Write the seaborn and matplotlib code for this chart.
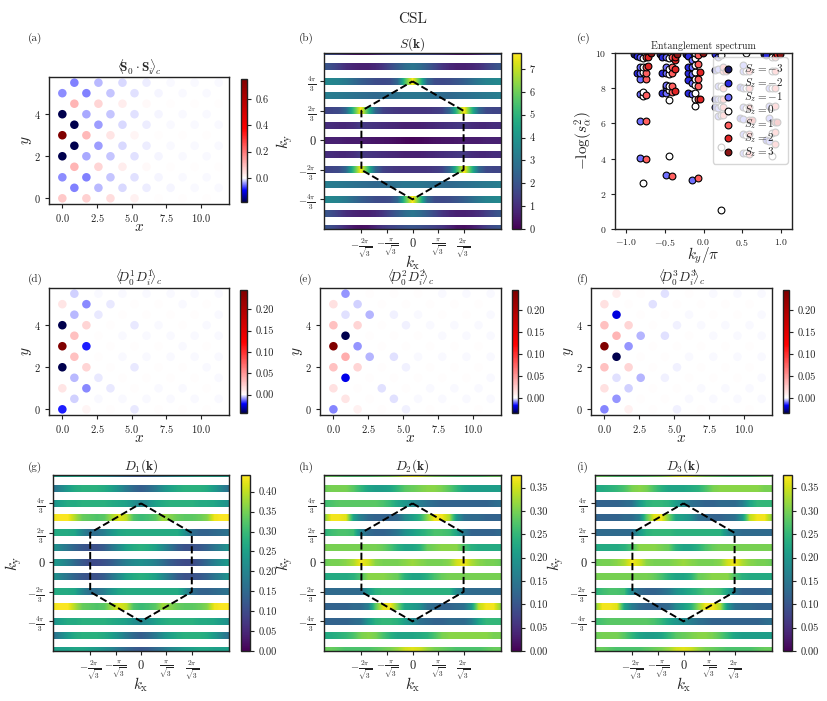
# -*- coding: utf-8 -*-
# CSL correlations, structure factors and entanglement spectrum

import numpy as np
import pandas as pd
import matplotlib
matplotlib.use('Agg')
import matplotlib.pyplot as plt
import seaborn as sns
from matplotlib.cm import ScalarMappable
from matplotlib.colors import TwoSlopeNorm, Normalize

# real-space correlations: one list per lattice column, 6 sites each
corr_a = [
    [0.08, -0.04, -0.18, 0.75, -0.18, -0.04],
    [-0.045, 0.11, -0.18, -0.18, 0.11, -0.045],
    [0.07, -0.045, -0.03, 0.10, -0.03, -0.045],
    [-0.025, 0.06, -0.035, -0.035, 0.06, -0.025],
    [0.05, -0.02, -0.02, 0.04, -0.02, -0.02],
    [-0.014, 0.025, -0.014, -0.014, 0.025, -0.014],
    [0.02, -0.01, -0.01, 0.016, -0.01, -0.01],
    [-0.006, 0.006, -0.006, -0.006, 0.006, -0.006],
    [0.005, -0.004, -0.004, 0.005, -0.004, -0.004],
    [-0.003, 0.004, -0.002, -0.002, 0.004, -0.002],
    [0.004, -0.002, -0.002, 0.005, -0.002, -0.002],
    [-0.002, 0.003, -0.002, -0.002, 0.003, -0.002],
    [0.003, -0.002, -0.002, 0.005, -0.002, -0.002],
    [-0.002, 0.003, -0.002, -0.002, 0.003, -0.002],
]
corr_d = [
    [-0.019, 0.012, -0.043, 0.245, -0.043, 0.012],
    [-0.004, -0.006, 0.03, 0.03, -0.006, -0.004],
    [0.005, -0.010, 0.02, -0.019, 0.02, -0.010],
    [-0.0005, -0.002, 0.001, 0.001, -0.002, -0.0005],
    [0.001, -0.002, 0.001, 0.001, 0.001, -0.002],
    [-0.0005, 0.001, -0.0005, -0.0005, 0.001, -0.0005],
    [-0.002, 0.001, -0.002, 0.001, -0.002, 0.001],
    [-0.0005, 0.001, -0.0005, -0.0005, 0.001, -0.0005],
    [0.001, -0.0005, 0.001, 0.001, -0.0005, 0.001],
    [-0.0005, 0.001, -0.0005, -0.0005, 0.001, -0.0005],
    [0.001, -0.0005, 0.001, -0.0005, 0.001, -0.0005],
    [-0.0005, 0.001, -0.0005, -0.0005, 0.001, -0.0005],
    [0.001, 0.001, -0.0005, 0.001, -0.0005, 0.001],
    [-0.0005, -0.0005, -0.0005, -0.0005, -0.0005, -0.0005],
]
corr_e = [
    [-0.008, 0.015, 0.03, 0.245, 0.03, 0.015],
    [0.012, -0.019, 0.04, -0.034, -0.002, -0.007],
    [0.006, 0.001, 0.02, -0.007, 0.02, -0.003],
    [0.001, 0.001, -0.005, 0.001, -0.005, 0.001],
    [0.001, -0.002, 0.001, 0.001, 0.001, 0.001],
    [-0.002, 0.001, -0.002, 0.001, -0.001, 0.001],
    [-0.001, 0.001, -0.001, 0.001, -0.001, 0.001],
    [-0.0005, 0.001, -0.0005, 0.001, -0.0005, 0.001],
    [0.001, -0.0005, 0.001, 0.001, -0.0005, 0.001],
    [-0.0005, 0.001, -0.0005, -0.0005, 0.001, -0.0005],
    [0.001, -0.0005, 0.001, 0.001, -0.0005, 0.001],
    [-0.0005, 0.001, -0.0005, -0.0005, 0.001, -0.0005],
    [0.001, -0.0005, 0.001, 0.001, -0.0005, 0.001],
    [-0.0005, -0.0005, -0.0005, -0.0005, -0.0005, -0.0005],
]
corr_f = [
    [-0.008, 0.015, 0.03, 0.245, 0.03, 0.015],
    [-0.007, -0.002, -0.034, 0.035, -0.02, 0.008],
    [0.006, -0.003, 0.02, -0.007, 0.02, 0.001],
    [0.001, -0.005, 0.001, -0.005, 0.001, 0.001],
    [0.001, 0.001, 0.001, 0.001, 0.001, -0.002],
    [0.001, -0.001, 0.001, -0.002, 0.001, -0.002],
    [-0.001, 0.001, -0.001, 0.001, -0.001, 0.001],
    [-0.0005, 0.001, -0.0005, 0.001, -0.0005, 0.001],
    [0.001, -0.0005, 0.001, 0.001, -0.0005, 0.001],
    [-0.0005, 0.001, -0.0005, -0.0005, 0.001, -0.0005],
    [0.001, -0.0005, 0.001, 0.001, -0.0005, 0.001],
    [-0.0005, 0.001, -0.0005, -0.0005, 0.001, -0.0005],
    [0.001, -0.0005, 0.001, 0.001, -0.0005, 0.001],
    [-0.0005, -0.0005, -0.0005, -0.0005, -0.0005, -0.0005],
]

# structure factors: rows for ky = 2pi, 5pi/3 ... 0, each read at 25 kx values
sk_rows = [
    [2.0, 1.8, 1.4, 0.9, 0.5, 0.3, 0.4, 0.8, 1.2, 1.5, 1.7, 1.9, 2.0, 1.9, 1.7, 1.5, 1.2, 0.8, 0.4, 0.3, 0.5, 0.9, 1.4, 1.8, 2.0],
    [2.1, 1.8, 1.4, 1.0, 0.8, 0.7, 0.7, 0.9, 1.2, 1.7, 2.2, 2.7, 3.0, 2.7, 2.2, 1.7, 1.2, 0.9, 0.7, 0.7, 0.8, 1.0, 1.4, 1.8, 2.1],
    [3.6, 3.5, 3.4, 3.1, 2.7, 2.3, 2.0, 1.8, 1.7, 1.8, 2.6, 5.5, 7.7, 5.5, 2.6, 1.8, 1.7, 1.8, 2.0, 2.3, 2.7, 3.1, 3.4, 3.5, 3.6],
    [3.3, 3.2, 3.1, 3.0, 2.9, 2.8, 2.7, 2.6, 2.7, 2.8, 2.9, 3.0, 3.0, 3.0, 2.9, 2.8, 2.7, 2.6, 2.7, 2.8, 2.9, 3.0, 3.1, 3.2, 3.3],
    [1.6, 1.6, 1.7, 2.6, 5.2, 7.7, 5.2, 2.5, 1.5, 1.3, 1.2, 1.2, 1.2, 1.2, 1.2, 1.3, 1.5, 2.5, 5.2, 7.7, 5.2, 2.6, 1.7, 1.6, 1.6],
    [1.0, 1.0, 0.9, 0.9, 1.0, 1.3, 1.2, 1.1, 1.0, 0.9, 0.8, 0.7, 0.7, 0.7, 0.8, 0.9, 1.0, 1.1, 1.2, 1.3, 1.0, 0.9, 0.9, 1.0, 1.0],
    [0.7, 0.7, 0.7, 0.6, 0.6, 0.6, 0.5, 0.45, 0.4, 0.35, 0.25, 0.15, 0.1, 0.15, 0.25, 0.35, 0.4, 0.45, 0.5, 0.6, 0.6, 0.6, 0.7, 0.7, 0.7],
]
d1_rows = [
    [0.25, 0.25, 0.25, 0.26, 0.26, 0.25, 0.24, 0.22, 0.20, 0.17, 0.15, 0.13, 0.12, 0.13, 0.15, 0.17, 0.20, 0.22, 0.24, 0.25, 0.26, 0.26, 0.25, 0.25, 0.25],
    [0.16, 0.20, 0.24, 0.27, 0.28, 0.28, 0.28, 0.27, 0.25, 0.22, 0.18, 0.15, 0.13, 0.15, 0.18, 0.22, 0.25, 0.27, 0.28, 0.28, 0.28, 0.27, 0.24, 0.20, 0.16],
    [0.22, 0.25, 0.27, 0.27, 0.28, 0.28, 0.28, 0.28, 0.27, 0.26, 0.25, 0.22, 0.20, 0.22, 0.25, 0.27, 0.28, 0.28, 0.28, 0.28, 0.27, 0.27, 0.26, 0.24, 0.22],
    [0.43, 0.44, 0.44, 0.39, 0.34, 0.33, 0.32, 0.33, 0.38, 0.42, 0.40, 0.32, 0.30, 0.31, 0.33, 0.38, 0.36, 0.34, 0.33, 0.33, 0.34, 0.36, 0.43, 0.44, 0.44],
    [0.27, 0.27, 0.27, 0.26, 0.20, 0.16, 0.16, 0.19, 0.23, 0.26, 0.27, 0.27, 0.27, 0.27, 0.27, 0.27, 0.27, 0.27, 0.22, 0.16, 0.14, 0.14, 0.15, 0.16, 0.17],
    [0.23, 0.20, 0.17, 0.14, 0.12, 0.11, 0.11, 0.13, 0.17, 0.21, 0.25, 0.27, 0.28, 0.27, 0.25, 0.21, 0.17, 0.13, 0.11, 0.11, 0.12, 0.14, 0.17, 0.20, 0.23],
    [0.24, 0.22, 0.19, 0.15, 0.12, 0.10, 0.10, 0.11, 0.13, 0.16, 0.19, 0.21, 0.22, 0.21, 0.19, 0.16, 0.13, 0.11, 0.10, 0.10, 0.12, 0.15, 0.19, 0.22, 0.24],
]
d2_rows = [
    [0.29, 0.29, 0.28, 0.27, 0.27, 0.27, 0.27, 0.28, 0.29, 0.30, 0.32, 0.35, 0.36, 0.35, 0.32, 0.30, 0.29, 0.28, 0.27, 0.27, 0.27, 0.27, 0.28, 0.29, 0.29],
    [0.29, 0.30, 0.30, 0.30, 0.28, 0.25, 0.22, 0.21, 0.21, 0.22, 0.25, 0.28, 0.29, 0.30, 0.31, 0.31, 0.30, 0.28, 0.25, 0.22, 0.21, 0.21, 0.21, 0.21, 0.21],
    [0.26, 0.27, 0.28, 0.28, 0.28, 0.28, 0.28, 0.28, 0.27, 0.25, 0.22, 0.20, 0.18, 0.16, 0.14, 0.13, 0.12, 0.12, 0.12, 0.12, 0.12, 0.12, 0.12, 0.13, 0.14],
    [0.30, 0.37, 0.37, 0.36, 0.22, 0.16, 0.13, 0.12, 0.12, 0.12, 0.13, 0.18, 0.21, 0.24, 0.31, 0.37, 0.37, 0.33, 0.20, 0.14, 0.13, 0.13, 0.12, 0.12, 0.12],
    [0.24, 0.26, 0.27, 0.27, 0.26, 0.17, 0.13, 0.12, 0.12, 0.13, 0.15, 0.19, 0.21, 0.23, 0.25, 0.27, 0.27, 0.26, 0.22, 0.15, 0.12, 0.12, 0.12, 0.12, 0.13],
    [0.30, 0.30, 0.30, 0.30, 0.30, 0.30, 0.30, 0.30, 0.29, 0.27, 0.24, 0.22, 0.22, 0.24, 0.29, 0.30, 0.31, 0.31, 0.31, 0.27, 0.24, 0.23, 0.23, 0.23, 0.23],
    [0.29, 0.30, 0.30, 0.31, 0.33, 0.37, 0.35, 0.31, 0.30, 0.30, 0.30, 0.31, 0.32, 0.31, 0.30, 0.30, 0.30, 0.31, 0.35, 0.37, 0.33, 0.31, 0.30, 0.30, 0.29],
    [0.23, 0.23, 0.23, 0.23, 0.24, 0.27, 0.31, 0.31, 0.31, 0.30, 0.29, 0.24, 0.22, 0.22, 0.24, 0.27, 0.29, 0.30, 0.30, 0.30, 0.30, 0.30, 0.30, 0.30, 0.30],
    [0.13, 0.13, 0.13, 0.13, 0.13, 0.13, 0.20, 0.24, 0.25, 0.25, 0.25, 0.24, 0.24, 0.24, 0.24, 0.24, 0.24, 0.24, 0.18, 0.14, 0.13, 0.13, 0.13, 0.13, 0.13],
    [0.12, 0.12, 0.12, 0.12, 0.13, 0.13, 0.16, 0.28, 0.36, 0.37, 0.30, 0.22, 0.21, 0.19, 0.14, 0.13, 0.12, 0.12, 0.13, 0.14, 0.20, 0.34, 0.37, 0.37, 0.31],
    [0.12, 0.12, 0.12, 0.12, 0.13, 0.14, 0.20, 0.24, 0.25, 0.25, 0.24, 0.21, 0.18, 0.14, 0.13, 0.12, 0.12, 0.13, 0.13, 0.13, 0.16, 0.22, 0.25, 0.25, 0.25],
    [0.23, 0.23, 0.24, 0.25, 0.27, 0.30, 0.31, 0.30, 0.27, 0.24, 0.22, 0.22, 0.22, 0.23, 0.24, 0.27, 0.30, 0.31, 0.31, 0.31, 0.31, 0.31, 0.31, 0.30, 0.30],
    [0.29, 0.29, 0.28, 0.27, 0.27, 0.27, 0.27, 0.28, 0.29, 0.30, 0.32, 0.35, 0.36, 0.35, 0.32, 0.30, 0.29, 0.28, 0.27, 0.27, 0.27, 0.27, 0.28, 0.29, 0.29],
]

# entanglement spectrum, one pair of lists per Sz sector
kpi_m3 = [-0.89, -0.56, -0.22, 0.78]
lev_m3 = [9.95, 9.95, 9.95, 9.95]
kpi_m2 = [-0.855, -0.855, -0.53, -0.53, -0.53, -0.2, -0.2, -0.2, -0.2, -0.2, 0.145, 0.145, 0.145, 0.145, 0.475, 0.475, 0.81, 0.81]
lev_m2 = [8.85, 9.85, 7.7, 8.85, 9.8, 7.75, 8.45, 8.85, 9.2, 9.85, 6.95, 7.4, 9.05, 9.95, 6.3, 8.05, 9.9, 5.05]
kpi_m1 = [-0.82, -0.82, -0.82, -0.82, -0.82, -0.82, -0.82,
          -0.485, -0.485, -0.485, -0.485, -0.485, -0.485, -0.485,
          -0.146, -0.146, -0.146, -0.146, -0.146, -0.146,
          0.185, 0.185, 0.185, 0.185, 0.185, 0.185,
          0.515, 0.515, 0.515, 0.515, 0.515, 0.515, 0.515,
          0.845, 0.845, 0.845, 0.845]
lev_m1 = [4.02, 6.12, 7.65, 8.5, 8.85, 9.2, 9.8,
          3.08, 7.75, 8.05, 8.2, 8.85, 9.2, 9.75,
          2.8, 7.65, 8.3, 8.8, 9.2, 9.6,
          6.4, 6.85, 7.4, 8.1, 9.1, 9.8,
          4.3, 5.4, 6.25, 6.95, 8.0, 9.0, 9.3,
          5.0, 6.3, 7.0, 8.0]
kpi_0 = [-0.78, 0.22, -0.44, 0.88, -0.11, -0.44, -0.78, -0.78, -0.11,
         0.22, 0.22, 0.22, 0.22, 0.22, 0.22, 0.55, 0.55, 0.55, 0.55, 0.55, 0.55,
         0.88, 0.88, 0.88, 0.88, 0.88,
         -0.78, -0.78, -0.78, -0.44, -0.44, -0.44, -0.44, -0.44,
         -0.11, -0.11, -0.11, -0.11, -0.11, -0.11, -0.11]
lev_0 = [2.62, 1.1, 4.12, 4.12, 7.0, 7.35, 7.55, 7.8, 7.4,
         4.65, 6.5, 7.0, 7.4, 8.1, 9.9, 4.3, 5.35, 6.9, 8.0, 9.0, 10.0,
         5.45, 6.95, 8.0, 9.0, 9.8,
         8.9, 9.2, 9.7, 7.9, 8.1, 8.8, 9.1, 9.7,
         7.7, 8.2, 8.5, 8.9, 9.3, 9.7, 10.0]
kpi_1 = [-0.745, -0.745, -0.745, -0.745, -0.745, -0.745, -0.745,
         -0.41, -0.41, -0.41, -0.41, -0.41, -0.41,
         -0.077, -0.077, -0.077, -0.077, -0.077, -0.077,
         0.255, 0.255, 0.255, 0.255, 0.255, 0.255,
         0.585, 0.585, 0.585, 0.585, 0.585, 0.585,
         0.92, 0.92, 0.92, 0.92, 0.92, 0.92, 0.92]
lev_1 = [3.98, 6.12, 7.6, 8.55, 8.85, 9.2, 9.8,
         3.0, 7.8, 8.15, 8.85, 9.2, 9.75,
         2.87, 7.4, 8.15, 8.5, 9.4, 9.9,
         6.45, 6.95, 7.4, 8.0, 9.0, 9.2,
         4.27, 5.4, 6.2, 6.95, 8.0, 9.0,
         4.85, 5.5, 6.1, 7.0, 8.0, 9.0, 9.8]
kpi_2 = [-0.71, -0.71, -0.37, -0.37, -0.37, -0.37, -0.04, -0.04, 0.29, 0.62, 0.95, 0.95]
lev_2 = [9.25, 9.75, 7.85, 9.1, 9.6, 9.75, 7.4, 8.9, 9.0, 6.2, 6.1, 9.95]
kpi_3 = [-0.68, -0.34, -0.01, 0.98]
lev_3 = [9.98, 9.95, 9.98, 9.97]

sz_labels = ['$S_z=-3$', '$S_z=-2$', '$S_z=-1$', '$S_z=0$', '$S_z=1$', '$S_z=2$', '$S_z=3$']
sz_colors = ['#1a1a66', '#2a2ae0', '#7070ff', '#ffffff', '#ff6060', '#e02525', '#8a1515']

sns.set_theme(style='ticks')
plt.rcParams['font.family'] = ['cmr10', 'DejaVu Serif']
plt.rcParams['mathtext.fontset'] = 'cm'
plt.rcParams['axes.formatter.use_mathtext'] = True
plt.rcParams['axes.edgecolor'] = '#222222'
plt.rcParams['axes.linewidth'] = 1.0
plt.rcParams['xtick.color'] = '#222222'
plt.rcParams['ytick.color'] = '#222222'
plt.rcParams['xtick.major.size'] = 3
plt.rcParams['ytick.major.size'] = 3
plt.rcParams['xtick.major.width'] = 0.8
plt.rcParams['ytick.major.width'] = 0.8

W, H = 827, 701
fig = plt.figure(figsize=(W / 100, H / 100), dpi=100)


def px_axes(left, right, top, bottom):
    return fig.add_axes([left / W, 1 - bottom / H, (right - left) / W, (bottom - top) / H])


def panel_label(text, x, y):
    fig.text(x / W, 1 - y / H, text, fontsize=8, va='center', ha='left')


def plot_corr(box, cbox, corr, vmin, vmax, title, ticks, ticklabels):
    ax = px_axes(*box)
    cax = px_axes(*cbox)
    values = np.array(corr)
    col, row = np.indices(values.shape)
    df = pd.DataFrame({
        'x': col.ravel() * np.sqrt(3) / 2,
        'y': row.ravel() + 0.5 * (col.ravel() % 2),
        'c': values.ravel(),
    })
    norm = TwoSlopeNorm(vcenter=0, vmin=vmin, vmax=vmax)
    sns.scatterplot(data=df, x='x', y='y', hue='c', hue_norm=norm, palette='seismic',
                    s=38, linewidth=0, legend=False, ax=ax)
    ax.set_xlim(-0.96, 12.0)
    ax.set_ylim(-0.27, 5.77)
    ax.set_xticks([0, 2.5, 5, 7.5, 10])
    ax.set_yticks([0, 2, 4])
    ax.tick_params(labelsize=7.5, pad=3)
    ax.set_xlabel('$x$', fontsize=11)
    ax.set_ylabel('$y$', fontsize=11)
    ax.xaxis.set_label_coords(0.5, -16 / (box[3] - box[2]))
    ax.yaxis.set_label_coords(-15 / (box[1] - box[0]), 0.5)
    ax.set_title(title, fontsize=9.5, pad=3)
    cb = fig.colorbar(ScalarMappable(norm=norm, cmap='seismic'), cax=cax)
    cax.set_yscale('linear')
    cb.set_ticks(ticks)
    cb.set_ticklabels(ticklabels)
    cax.tick_params(labelsize=7.5, pad=3)
    cax.minorticks_off()


def plot_sk(box, cbox, rows, vmax, title, ticks, ticklabels):
    ax = px_axes(*box)
    cax = px_axes(*cbox)
    rows = np.array(rows)
    norm = Normalize(0, vmax)
    half = 0.235
    # half a sample beyond +-2pi so that the samples sit at their own kx
    edge = 2 * np.pi * (1 + 1 / 24)
    n_rows = len(rows)
    for i, row in enumerate(rows):
        ky = (n_rows // 2 - i) * np.pi / 3
        ax.imshow(row[None, :], extent=(-edge, edge, ky - half, ky + half), aspect='auto',
                  interpolation='bilinear', cmap='viridis', norm=norm)
    # first Brillouin zone outline
    a, b = 2 * np.pi / np.sqrt(3), 2 * np.pi / 3
    hex_x = [0, a, a, 0, -a, -a, 0]
    hex_y = [2 * b, b, -b, -2 * b, -b, b, 2 * b]
    sns.lineplot(x=hex_x, y=hex_y, sort=False, estimator=None, color='black', linestyle='--',
                 linewidth=1.4, ax=ax)
    ax.set_xlim(-2 * np.pi, 2 * np.pi)
    ax.set_ylim(-6.01 * np.pi / 3, 5.92 * np.pi / 3)
    ax.set_xticks([-a, -a / 2, 0, a / 2, a])
    ax.set_xticklabels([r'$-\frac{2\pi}{\sqrt{3}}$', r'$-\frac{\pi}{\sqrt{3}}$', '$0$',
                        r'$\frac{\pi}{\sqrt{3}}$', r'$\frac{2\pi}{\sqrt{3}}$'])
    ax.set_yticks([-2 * b, -b, 0, b, 2 * b])
    ax.set_yticklabels([r'$-\frac{4\pi}{3}$', r'$-\frac{2\pi}{3}$', '$0$',
                        r'$\frac{2\pi}{3}$', r'$\frac{4\pi}{3}$'])
    ax.tick_params(labelsize=7.5, pad=2.5)
    ax.get_xticklabels()[2].set_fontsize(9)
    ax.get_yticklabels()[2].set_fontsize(9)
    ax.set_xlabel(r'$k_{\rm x}$', fontsize=11)
    ax.set_ylabel(r'$k_{\rm y}$', fontsize=11)
    ax.xaxis.set_label_coords(0.5, -24 / 176)
    ax.yaxis.set_label_coords(-29 / 176, 0.5)
    ax.set_title(title, fontsize=9.5, pad=3)
    cb = fig.colorbar(ScalarMappable(norm=norm, cmap='viridis'), cax=cax)
    cb.set_ticks(ticks)
    cb.set_ticklabels(ticklabels)
    cax.tick_params(labelsize=7.5, pad=3)


def mirror_rows(rows):
    # lower half-plane repeats the upper one
    rows = np.array(rows)
    return np.vstack([rows, rows[-2::-1]])


cb_a = [0.0, 0.2, 0.4, 0.6]
cb_abl = ['0.0', '0.2', '0.4', '0.6']
cb_d = [0.0, 0.05, 0.10, 0.15, 0.20]
cb_dl = ['0.00', '0.05', '0.10', '0.15', '0.20']
cb_b = [0, 1, 2, 3, 4, 5, 6, 7]
cb_bl = [str(t) for t in cb_b]
cb_g = [0, 0.05, 0.10, 0.15, 0.20, 0.25, 0.30, 0.35, 0.40]
cb_gl = ['%.2f' % t for t in cb_g]
cb_h = cb_g[:-1]
cb_hl = cb_gl[:-1]

plot_corr((49, 229, 77, 204), (241, 247, 79, 202), corr_a, -0.18, 0.75,
          r'$\langle\!\! \mathbf{S}_0 \cdot \mathbf{S}_i \!\!\rangle_c$', cb_a, cb_abl)
plot_sk((324, 501, 53, 229), (512, 521, 53, 229), mirror_rows(sk_rows), 7.7,
        r'$S(\mathbf{k})$', cb_b, cb_bl)

# entanglement spectrum panel
ax_c = px_axes(615, 792, 53, 229)
sectors = [(kpi_m3, lev_m3), (kpi_m2, lev_m2), (kpi_m1, lev_m1), (kpi_0, lev_0),
           (kpi_1, lev_1), (kpi_2, lev_2), (kpi_3, lev_3)]
for (kpi, lev), label, color in zip(sectors, sz_labels, sz_colors):
    sns.scatterplot(x=kpi, y=lev, color=color, edgecolor='black', linewidth=0.8,
                    s=24, label=label, ax=ax_c)
ax_c.set_xlim(-1.14, 1.14)
ax_c.set_ylim(0, 10)
ax_c.set_xticks([-1, -0.5, 0, 0.5, 1])
ax_c.set_yticks([0, 2, 4, 6, 8, 10])
ax_c.tick_params(labelsize=7, pad=3)
ax_c.set_xlabel(r'$k_y/\pi$', fontsize=11)
ax_c.set_ylabel(r'$-\log(s_\alpha^2)$', fontsize=11)
ax_c.xaxis.set_label_coords(0.5, -17 / 176)
ax_c.yaxis.set_label_coords(-20 / 177, 0.5)
ax_c.set_title('Entanglement spectrum', fontsize=7.2, pad=3)
ax_c.legend(loc='upper right', fontsize=8, labelspacing=0.0, framealpha=0.8,
            borderaxespad=0.4, handletextpad=0.4, borderpad=0.4)

plot_corr((49, 229, 288, 415), (240, 247, 290, 413), corr_d, -0.043, 0.245,
          r'$\langle\!\! D_0^1 D_i^1 \!\!\rangle_c$', cb_d, cb_dl)
plot_corr((320, 501, 288, 415), (512, 518, 290, 413), corr_e, -0.034, 0.245,
          r'$\langle\!\! D_0^2 D_i^2 \!\!\rangle_c$', cb_d, cb_dl)
plot_corr((591, 772, 288, 415), (783, 789, 290, 413), corr_f, -0.034, 0.245,
          r'$\langle\!\! D_0^3 D_i^3 \!\!\rangle_c$', cb_d, cb_dl)

plot_sk((53, 229, 475, 651), (241, 250, 475, 651), mirror_rows(d1_rows), 0.442,
        r'$D_1(\mathbf{k})$', cb_g, cb_gl)
plot_sk((324, 501, 475, 651), (511, 521, 475, 651), d2_rows, 0.377,
        r'$D_2(\mathbf{k})$', cb_h, cb_hl)
plot_sk((595, 772, 475, 651), (783, 792, 475, 651), d2_rows[::-1], 0.377,
        r'$D_3(\mathbf{k})$', cb_h, cb_hl)

fig.text(413 / W, 1 - 19 / H, 'CSL', fontsize=11, ha='center', va='center')
for text, x, y in [('(a)', 28, 38), ('(b)', 299, 38), ('(c)', 577, 38),
                   ('(d)', 28, 279), ('(e)', 299, 279), ('(f)', 577, 279),
                   ('(g)', 28, 467), ('(h)', 299, 467), ('(i)', 577, 467)]:
    panel_label(text, x, y)

fig.savefig('out.png', dpi=100)
